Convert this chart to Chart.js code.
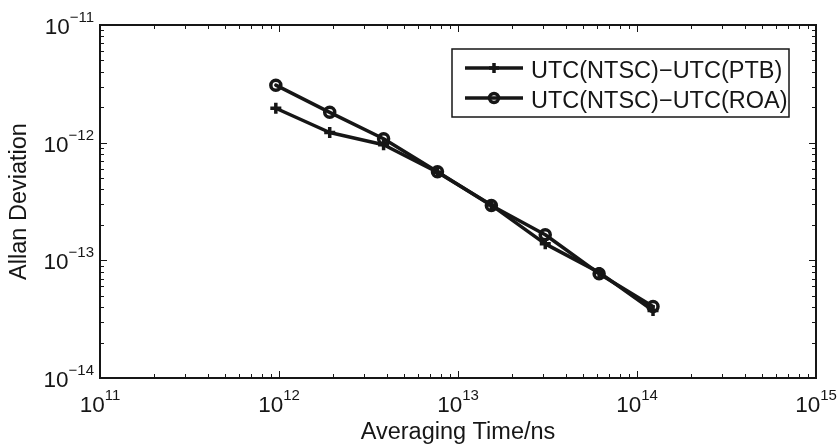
<!DOCTYPE html>
<html><head><meta charset="utf-8">
<style>html,body{margin:0;padding:0;background:#fff;} #wrap{width:839px;height:445px;position:relative;}</style>
<script src="https://cdn.jsdelivr.net/npm/chart.js@4/dist/chart.umd.min.js"></script>
</head><body><div id="wrap"><canvas id="c" width="839" height="445"></canvas></div>
<script>
// ---- data ----
const tau = [9.6e11, 1.92e12, 3.84e12, 7.68e12, 1.536e13, 3.072e13, 6.144e13, 1.2288e14];
const ptb = [1.96e-12, 1.22e-12, 9.6e-13, 5.6e-13, 2.95e-13, 1.38e-13, 7.9e-14, 3.75e-14];
const roa = [3.08e-12, 1.81e-12, 1.08e-12, 5.65e-13, 2.92e-13, 1.65e-13, 7.7e-14, 4.05e-14];
const seriesNames = ['UTC(NTSC)\u2212UTC(PTB)', 'UTC(NTSC)\u2212UTC(ROA)'];
const xTickExps = [11, 12, 13, 14, 15];
const yTickExps = [-14, -13, -12, -11];
const xTitle = 'Averaging Time/ns';
const yTitle = 'Allan Deviation';

const FONT = '"Liberation Sans", Arial, Helvetica, sans-serif';
const INK = '#161616';

function pts(xs, ys) { return xs.map((v, i) => ({x: v, y: ys[i]})); }

const matlabAxes = {
  id: 'matlabAxes',
  afterDraw(chart) {
    const {ctx, chartArea: a, scales: {x, y}} = chart;
    ctx.save();
    ctx.strokeStyle = INK;
    ctx.fillStyle = INK;
    const majLen = 7, minLen = 4;
    ctx.lineWidth = 1;
    ctx.beginPath();
    for (let k = 0; k < xTickExps.length; k++) {
      const e = xTickExps[k];
      const vals = [{v: Math.pow(10, e), len: majLen}];
      if (k < xTickExps.length - 1) for (let m = 2; m <= 9; m++) vals.push({v: m * Math.pow(10, e), len: minLen});
      vals.forEach(t => {
        const px = Math.round(x.getPixelForValue(t.v)) + 0.5;
        ctx.moveTo(px, a.bottom); ctx.lineTo(px, a.bottom - t.len);
        ctx.moveTo(px, a.top); ctx.lineTo(px, a.top + t.len);
      });
    }
    for (let k = 0; k < yTickExps.length; k++) {
      const e = yTickExps[k];
      const vals = [{v: Math.pow(10, e), len: majLen}];
      if (k < yTickExps.length - 1) for (let m = 2; m <= 9; m++) vals.push({v: m * Math.pow(10, e), len: minLen});
      vals.forEach(t => {
        const py = Math.round(y.getPixelForValue(t.v)) + 0.5;
        ctx.moveTo(a.left, py); ctx.lineTo(a.left + t.len, py);
        ctx.moveTo(a.right, py); ctx.lineTo(a.right - t.len, py);
      });
    }
    ctx.stroke();
    ctx.lineWidth = 2;
    ctx.strokeRect(a.left, a.top, a.right - a.left, a.bottom - a.top);

    const bigF = '22.5px ' + FONT, supF = '15px ' + FONT;
    ctx.textBaseline = 'alphabetic';
    ctx.textAlign = 'left';
    xTickExps.forEach(e => {
      const px = x.getPixelForValue(Math.pow(10, e));
      const sup = String(e);
      ctx.font = bigF; const w1 = ctx.measureText('10').width;
      ctx.font = supF; const w2 = ctx.measureText(sup).width;
      const start = px - (w1 + w2) / 2;
      ctx.font = bigF; ctx.fillText('10', start, a.bottom + 34);
      ctx.font = supF; ctx.fillText(sup, start + w1, a.bottom + 22);
    });
    yTickExps.forEach(e => {
      const py = y.getPixelForValue(Math.pow(10, e));
      const sup = '\u2212' + String(-e);
      ctx.font = supF; const w2 = ctx.measureText(sup).width;
      const right = a.left - 6;
      ctx.textAlign = 'right';
      ctx.fillText(sup, right, py - 3);
      ctx.font = bigF; ctx.fillText('10', right - w2, py + 9);
    });

    const lx = 452, ly = 49, lw = 337, lh = 68;
    ctx.fillStyle = '#fff';
    ctx.fillRect(lx, ly, lw, lh);
    ctx.lineWidth = 1.5;
    ctx.strokeStyle = INK;
    ctx.strokeRect(lx, ly, lw, lh);
    const rows = [68, 98];
    const ds = chart.data.datasets;
    rows.forEach((ry, i) => {
      ctx.strokeStyle = INK;
      ctx.lineWidth = 3.5;
      ctx.lineCap = 'butt';
      ctx.beginPath(); ctx.moveTo(465, ry); ctx.lineTo(523, ry); ctx.stroke();
      const cx = 494;
      if (ds[i].pointStyle === 'circle') {
        ctx.beginPath(); ctx.arc(cx, ry, 4.5, 0, Math.PI * 2); ctx.stroke();
      } else {
        ctx.beginPath();
        ctx.moveTo(cx - 5, ry); ctx.lineTo(cx + 5, ry);
        ctx.moveTo(cx, ry - 5); ctx.lineTo(cx, ry + 5);
        ctx.stroke();
      }
      ctx.fillStyle = INK;
      ctx.font = '23.5px ' + FONT;
      ctx.textAlign = 'left';
      ctx.textBaseline = 'alphabetic';
      ctx.fillText(ds[i].label, 531, ry + 10);
    });
    ctx.restore();
  }
};

new Chart(document.getElementById('c'), {
  type: 'scatter',
  data: {
    datasets: [
      {label: seriesNames[0], data: pts(tau, ptb), showLine: true,
       borderColor: INK, borderWidth: 3.5, pointStyle: 'cross', pointRadius: 5.5,
       pointBorderWidth: 3.5, pointBorderColor: INK, pointBackgroundColor: INK,
       borderJoinStyle: 'round', borderCapStyle: 'round'},
      {label: seriesNames[1], data: pts(tau, roa), showLine: true,
       borderColor: INK, borderWidth: 3.5, pointStyle: 'circle', pointRadius: 5,
       pointBorderWidth: 3.5, pointBorderColor: INK, pointBackgroundColor: 'rgba(0,0,0,0)',
       borderJoinStyle: 'round', borderCapStyle: 'round'}
    ]
  },
  options: {
    responsive: false,
    animation: false,
    events: [],
    layout: {padding: {top: 25, right: 23, bottom: 0, left: 0}},
    plugins: {legend: {display: false}, tooltip: {enabled: false}},
    scales: {
      x: {
        type: 'logarithmic', min: Math.pow(10, xTickExps[0]), max: Math.pow(10, xTickExps[xTickExps.length - 1]),
        ticks: {display: false}, grid: {display: false}, border: {display: false},
        title: {display: true, text: xTitle, color: INK, font: {family: FONT, size: 23.5, lineHeight: 1}, padding: {top: 0, bottom: 1}},
        afterFit(s) { s.height = 67; }
      },
      y: {
        type: 'logarithmic', min: Math.pow(10, yTickExps[0]), max: Math.pow(10, yTickExps[yTickExps.length - 1]),
        ticks: {display: false}, grid: {display: false}, border: {display: false},
        title: {display: true, text: yTitle, color: INK, font: {family: FONT, size: 23.5, lineHeight: 1}, padding: {top: 8, bottom: 0}},
        afterFit(s) { s.width = 100; }
      }
    }
  },
  plugins: [matlabAxes]
});
</script>
</body></html>
